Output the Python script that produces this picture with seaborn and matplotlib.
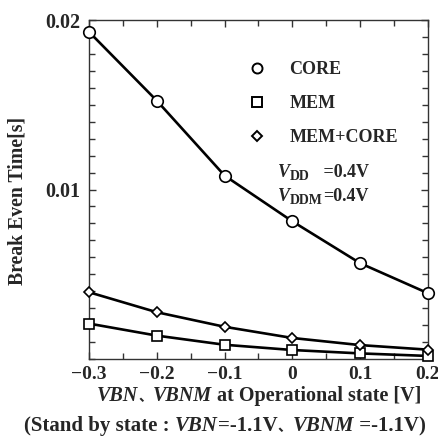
import matplotlib
matplotlib.use("Agg")
import matplotlib.pyplot as plt
from matplotlib.lines import Line2D
from matplotlib.ticker import MultipleLocator, FixedLocator
import seaborn as sns
import pandas as pd

x_vals = [-0.3, -0.2, -0.1, 0.0, 0.1, 0.2]
core = [0.0193, 0.01524, 0.01082, 0.00812, 0.00565, 0.00388]
mem = [0.00209, 0.00138, 0.00084, 0.00053, 0.00033, 0.00018]
mem_core = [0.00394, 0.00276, 0.0019, 0.00124, 0.00082, 0.00055]
series_names = ["CORE", "MEM", "MEM+CORE"]
x_ticklabels = ["\u22120.3", "\u22120.2", "\u22120.1", "0", "0.1", "0.2"]
y_ticks = [0.01, 0.02]
y_ticklabels = ["0.01", "0.02"]

sns.set_style("ticks")
FAMS = ["Liberation Serif", "Noto Sans CJK JP"]
plt.rcParams["font.family"] = FAMS
plt.rcParams["font.weight"] = "bold"

W, H = 439, 441
fig = plt.figure(figsize=(W/100, H/100), dpi=100)
ax = fig.add_axes([89/W, 1-359/H, (428-89)/W, (359-20)/H])

markers = {"CORE": "o", "MEM": "s", "MEM+CORE": "D"}
msizes = {"CORE": 8.3, "MEM": 7.8, "MEM+CORE": 5.0}
leg_sizes = {"CORE": 7.2, "MEM": 6.8, "MEM+CORE": 5.2}
for name, vals in zip(series_names, [core, mem, mem_core]):
    df = pd.DataFrame({"x": x_vals, "y": vals})
    sns.lineplot(data=df, x="x", y="y", ax=ax, color="black", linewidth=1.9,
                 marker=markers[name], markersize=msizes[name],
                 markerfacecolor="white", markeredgecolor="black",
                 markeredgewidth=1.2, zorder=3, clip_on=False)

ax.set_xlim(-0.3, 0.2)
ax.set_ylim(0, 0.02)
ax.tick_params(which="both", direction="in", top=True, right=True, color="#333333")
ax.tick_params(which="major", length=5, width=1, pad=5, labelsize=14)
ax.tick_params(which="minor", length=4, width=1)
ax.xaxis.set_major_locator(FixedLocator(x_vals))
ax.set_xticklabels(x_ticklabels, fontsize=14, fontweight="bold")
ax.xaxis.set_minor_locator(MultipleLocator(0.05))
ax.yaxis.set_major_locator(FixedLocator(y_ticks))
ax.set_yticklabels(y_ticklabels, fontsize=14.5, fontweight="bold")
ax.tick_params(axis="y", which="major", pad=6)
ax.yaxis.set_minor_locator(MultipleLocator(0.001))
for sp in ax.spines.values():
    sp.set_linewidth(1.0)
    sp.set_color("#333333")
ax.set_xlabel("")
ax.set_ylabel("Break Even Time[s]", fontsize=14.2, fontweight="bold")
ax.yaxis.set_label_coords(-0.182, 0.465)

handles = [Line2D([], [], linestyle="none", marker=markers[n], markersize=leg_sizes[n],
                  markerfacecolor="white", markeredgecolor="black", markeredgewidth=1.4)
           for n in series_names]
leg = ax.legend(handles, series_names, loc="upper left", bbox_to_anchor=(0.42, 0.927),
                frameon=False, prop={"family": "Liberation Serif", "weight": "bold", "size": 13},
                handletextpad=1.3, labelspacing=0.95, handlelength=1.0)


def place(pieces, x_px, y_px, align="left"):
    texts = []
    for s, st, size, dy in pieces:
        texts.append(fig.text(0, 1 - (y_px + dy)/H, s, fontsize=size, fontweight="bold",
                              fontstyle=st, family=FAMS, va="baseline", ha="left"))
    fig.canvas.draw()
    r = fig.canvas.get_renderer()
    widths = [t.get_window_extent(r).width for t in texts]
    total = sum(widths)
    x = x_px - total/2 if align == "center" else x_px
    for t, w in zip(texts, widths):
        t.set_x(x/W)
        x += w


XS = 14.5
XS2 = 15
line1 = [("VBN", "italic", XS, 0), ("\u3001", "normal", XS*0.7, 0), ("VBNM", "italic", XS, 0),
         (" at Operational state [V]", "normal", XS, 0)]
line2 = [("(Stand by state : ", "normal", XS2, 0), ("VBN", "italic", XS2, 0),
         ("=-1.1V", "normal", XS2, 0), ("\u3001", "normal", XS2*0.7, 0),
         ("VBNM", "italic", XS2, 0), (" =-1.1V)", "normal", XS2, 0)]
place(line1, 259, 401, "center")
place(line2, 225, 431, "center")

VS = 13
vdd = [("V", "italic", VS, 0), ("DD", "normal", 10, 3), ("   =0.4V", "normal", VS, 0)]
vddm = [("V", "italic", VS, 0), ("DDM", "normal", 10, 3), ("=0.4V", "normal", VS, 0)]
place(vdd, 278, 177)
place(vddm, 278, 201)

fig.savefig("out.png", dpi=100)
